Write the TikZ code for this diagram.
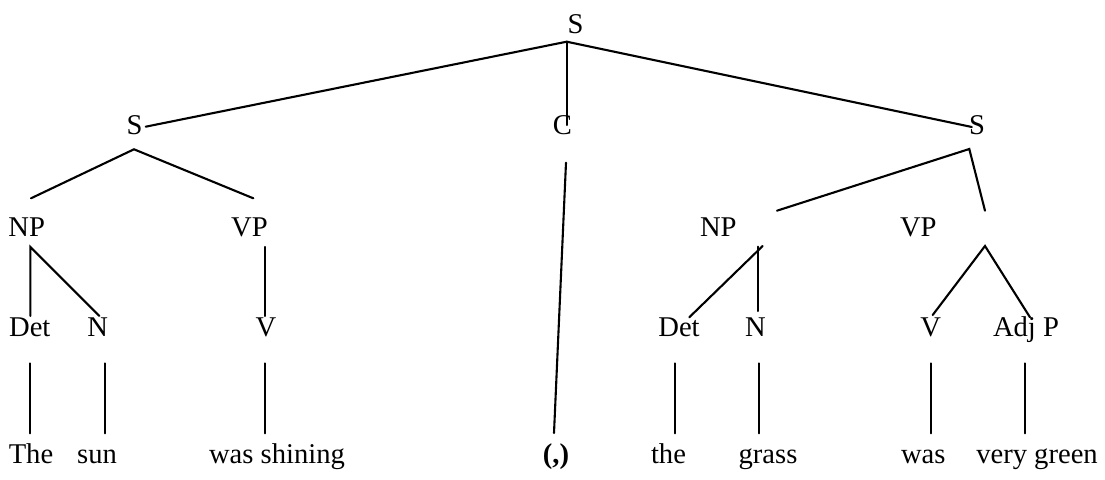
\documentclass[tikz,border=0pt]{standalone}
\usepackage{fontspec}
\setmainfont{Liberation Serif}
\begin{document}
\begin{tikzpicture}[x=0.5pt,y=-0.5pt,
  lbl/.style={anchor=base,inner sep=0pt,font=\fontsize{14.3}{17}\selectfont},
  edge/.style={line width=1.05pt,line cap=round}]
\useasboundingbox (0,0) rectangle (1105,480);
% labels
\node[lbl] (sTop) at (575.5,33.3) {S};
\node[lbl] (sL) at (134.7,135) {S};
\node[lbl] (cM) at (562.5,135) {C};
\node[lbl] (sR) at (977,135) {S};
\node[lbl] (npL) at (26.7,236.7) {NP};
\node[lbl] (vpL) at (249.5,236.7) {VP};
\node[lbl] (npR) at (718.3,236.7) {NP};
\node[lbl] (vpR) at (918.3,236.7) {VP};
\node[lbl] (detL) at (29.8,336.7) {Det};
\node[lbl] (nL) at (97.8,336.7) {N};
\node[lbl] (vL) at (266,336.7) {V};
\node[lbl] (detR) at (679,336.7) {Det};
\node[lbl] (nR) at (755.5,336.7) {N};
\node[lbl] (vR) at (930.8,336.7) {V};
\node[lbl] (adjR) at (1026,336.7) {Adj P};
\node[lbl] (w1) at (31,463.3) {The};
\node[lbl] (w2) at (97,463.3) {sun};
\node[lbl] (w3) at (277,463.3) {was shining};
\node[lbl] (w4) at (556,463.3) {\textbf{(,)}};
\node[lbl] (w5) at (668.5,463.3) {the};
\node[lbl] (w6) at (768,463.3) {grass};
\node[lbl] (w7) at (923.3,463.3) {was};
\node[lbl] (w8) at (1037,463.3) {very green};
% connector end points
\coordinate (aTop) at (566.7,41.7);
\coordinate (eSL) at (145.7,126.7);
\coordinate (eC) at (566.7,125);
\coordinate (eSR) at (971.8,127);
\coordinate (aSL) at (134,149.3);
\coordinate (eNPL) at (31,198.3);
\coordinate (eVPL) at (253.3,198.3);
\coordinate (cTop) at (566,162.7);
\coordinate (cBot) at (554,433);
\coordinate (aSR) at (969.3,149);
\coordinate (eNPR) at (777,210.7);
\coordinate (eVPR) at (985,210.7);
\coordinate (aNPL) at (30.4,247);
\coordinate (eDetL) at (30.4,316);
\coordinate (eNL) at (99.3,316);
\coordinate (aVPL) at (264.6,247);
\coordinate (eVL) at (264.6,316);
\coordinate (aNPRd) at (762.7,246);
\coordinate (eDetR) at (689.3,317.3);
\coordinate (aNPRv) at (758.3,246.7);
\coordinate (eNR) at (758.3,311);
\coordinate (aVPR) at (985,246);
\coordinate (eVR) at (932.7,315);
\coordinate (eAdjR) at (1030,317.3);
\foreach \n/\x in {1/29.6,2/104.6,3/264.6,5/675.4,6/758.6,7/930.7,8/1025}{
  \coordinate (t\n) at (\x,363.3);
  \coordinate (b\n) at (\x,433.3);
}
% connectors
\draw[edge] (aTop) -- (eSL);
\draw[edge] (aTop) -- (eC);
\draw[edge] (aTop) -- (eSR);
\draw[edge] (eNPL) -- (aSL) -- (eVPL);
\draw[edge] (cTop) -- (cBot);
\draw[edge] (eNPR) -- (aSR) -- (eVPR);
\draw[edge] (eDetL) -- (aNPL) -- (eNL);
\draw[edge] (aVPL) -- (eVL);
\draw[edge] (aNPRd) -- (eDetR);
\draw[edge] (aNPRv) -- (eNR);
\draw[edge] (eVR) -- (aVPR) -- (eAdjR);
\foreach \n in {1,2,3,5,6,7,8}{
  \draw[edge] (t\n) -- (b\n);
}
\end{tikzpicture}
\end{document}
